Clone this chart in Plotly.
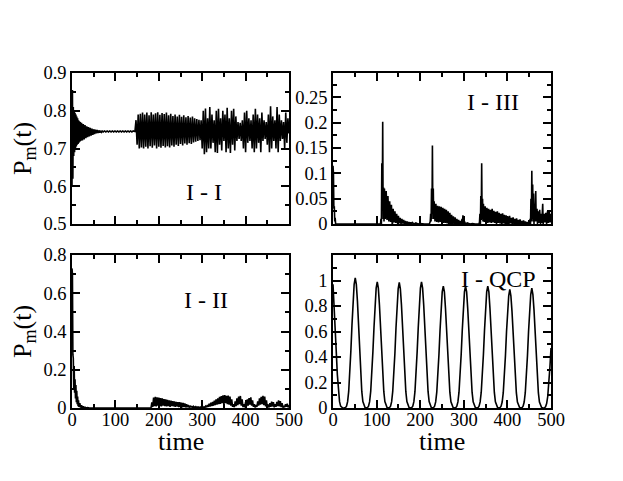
import plotly.graph_objects as go

FONT = "Liberation Serif"

# ---------------- Panel I - I (top left) ----------------
ii_t_a = list(range(0, 21))
ii_v_a = [0.60, 0.855, 0.62, 0.81, 0.68, 0.80, 0.69, 0.795, 0.70, 0.79, 0.705,
          0.785, 0.71, 0.78, 0.712, 0.775, 0.715, 0.772, 0.718, 0.770, 0.720]
ii_t_b = list(range(22, 71, 2))
ii_v_b = [0.768, 0.721, 0.765, 0.724, 0.762, 0.727, 0.759, 0.730, 0.757, 0.732,
          0.755, 0.734, 0.753, 0.736, 0.751, 0.738, 0.750, 0.740, 0.749, 0.741,
          0.748, 0.742, 0.747, 0.743, 0.746]
ii_t_c = list(range(72, 145, 3))
ii_v_c = [0.744, 0.7465, 0.744, 0.7465, 0.744, 0.7465, 0.744, 0.7465, 0.744, 0.7465,
          0.744, 0.7465, 0.744, 0.7465, 0.744, 0.7465, 0.744, 0.7465, 0.744, 0.7465,
          0.744, 0.7465, 0.744, 0.7465, 0.745]
ii_t_d = [145 + 2.5 * i for i in range(143)]
ii_v_d = [0.745, 0.775, 0.71, 0.79, 0.70, 0.792, 0.703, 0.795, 0.70, 0.79,
          0.705, 0.795, 0.70, 0.788, 0.706, 0.796, 0.702, 0.79, 0.708, 0.793,
          0.70, 0.796, 0.705, 0.789, 0.702, 0.794, 0.707, 0.791, 0.703, 0.795,
          0.706, 0.788, 0.703, 0.792, 0.708, 0.786, 0.705, 0.79, 0.71, 0.785,
          0.707, 0.789, 0.712, 0.784, 0.708, 0.788, 0.713, 0.783, 0.71, 0.786,
          0.714, 0.782, 0.712, 0.785, 0.716, 0.78, 0.718, 0.778, 0.72, 0.776,
          0.722, 0.775, 0.70, 0.80, 0.685, 0.806, 0.69, 0.78, 0.70, 0.81,
          0.70, 0.79, 0.715, 0.775, 0.69, 0.80, 0.688, 0.805, 0.71, 0.78,
          0.695, 0.80, 0.72, 0.79, 0.69, 0.808, 0.70, 0.78, 0.688, 0.80,
          0.71, 0.805, 0.695, 0.785, 0.72, 0.77, 0.725, 0.768, 0.72, 0.775,
          0.70, 0.795, 0.69, 0.80, 0.715, 0.78, 0.72, 0.775, 0.70, 0.79,
          0.69, 0.805, 0.70, 0.79, 0.715, 0.78, 0.69, 0.795, 0.72, 0.775,
          0.725, 0.77, 0.71, 0.79, 0.69, 0.812, 0.70, 0.785, 0.72, 0.775,
          0.70, 0.81, 0.69, 0.79, 0.72, 0.775, 0.725, 0.77, 0.70, 0.795,
          0.715, 0.78, 0.74]
ii_t = ii_t_a + ii_t_b + ii_t_c + ii_t_d
ii_v = ii_v_a + ii_v_b + ii_v_c + ii_v_d

# ---------------- Panel I - III (top right) ----------------
iii_t = [0, 1, 2, 3, 4, 5, 6, 10, 106, 109, 110, 111, 112, 113, 114, 115, 116, 117, 118,
         120, 122, 124, 126, 128, 130, 132, 134, 136, 138, 140, 142, 144, 146, 148, 150,
         152, 154, 156, 158, 160, 162, 164, 166, 168, 170, 172, 174, 176, 178, 180, 182,
         186, 190, 195, 200, 210, 221,
         223, 224, 225, 226, 227, 228, 229, 230, 231, 232, 234, 236, 238, 240, 242, 244,
         246, 248, 250, 252, 254, 256, 258, 260, 262, 264, 266, 268, 270, 272, 274, 276,
         278, 280, 282, 284, 286, 288, 290, 292, 294, 296, 297, 298, 300, 302, 304, 308,
         314, 320, 326, 335,
         336, 337, 338, 339, 340, 341, 342, 343, 344, 345, 347, 349, 351, 353, 355, 357,
         359, 361, 363, 365, 367, 369, 371, 373, 375, 377, 379, 381, 383, 385, 387, 389,
         391, 393, 395, 397, 399, 401, 403, 405, 407, 409, 411, 413, 415, 417, 419, 421,
         423, 425, 427, 429, 431, 433, 435, 437, 439, 441, 443, 445, 447, 449, 451,
         452, 453, 454, 455, 456, 457, 458, 459, 460, 461, 462, 463, 465, 466, 468, 469,
         471, 472, 474, 476, 478, 479, 481, 482, 484, 486, 488, 490, 492, 494, 496, 498, 500]
iii_v = [0.115, 0.10, 0.03, 0.035, 0.005, 0.012, 0.0, 0.0, 0.0, 0.0, 0.01, 0.0, 0.12, 0.03,
         0.202, 0.01, 0.072, 0.005, 0.07,
         0.01, 0.065, 0.008, 0.055, 0.005, 0.045, 0.004, 0.038, -0.006, 0.03, 0.003, 0.025,
         0.002, 0.02, 0.001, 0.016, 0.001, 0.012, 0.0, 0.01, 0.001, 0.008, 0.0, 0.006, 0.0,
         0.005, 0.0, 0.004, 0.0, 0.003, 0.0, 0.003, 0.0, 0.002, 0.0, 0.001, 0.0, 0.0,
         0.005, 0.02, 0.005, 0.07, 0.01, 0.155, 0.02, 0.07, 0.01, 0.045, 0.005, 0.04, 0.004,
         0.036, 0.003, 0.035, 0.004, 0.034, 0.003, 0.032, 0.002, 0.03, 0.002, 0.028, 0.001,
         0.025, -0.004, 0.022, -0.008, 0.018, 0.0, 0.015, 0.0, 0.013, 0.0, 0.01, 0.0, 0.008,
         0.0, 0.006, 0.0, 0.01, 0.0, 0.017, 0.002, 0.004, 0.0, 0.002, 0.0, 0.001, 0.0, 0.0,
         0.004, 0.02, -0.006, 0.055, 0.008, 0.12, 0.01, 0.05, 0.005, 0.04, 0.004, 0.035,
         0.003, 0.032, 0.002, 0.03, 0.003, 0.028, 0.002, 0.03, 0.003, 0.026, 0.002, 0.024,
         0.0, 0.025, 0.002, 0.022, 0.001, 0.02, -0.003, 0.021, 0.001, 0.018, 0.0, 0.017,
         0.001, 0.015, -0.005, 0.016, 0.001, 0.012, 0.0, 0.013, 0.0, 0.01, 0.0, 0.011, 0.0,
         0.008, 0.0, 0.009, 0.0, 0.006, 0.0, 0.007, 0.0, 0.005, 0.0, 0.004, 0.0, 0.003, 0.001,
         0.01, 0.0, 0.05, 0.005, 0.105, 0.01, 0.078, 0.005, 0.06, 0.0, 0.04, 0.005, 0.065,
         0.005, 0.03, 0.0, 0.025, 0.002, 0.028, 0.0, 0.02, 0.002, 0.04, 0.0, 0.02, 0.003,
         0.022, 0.0, 0.025, 0.002, 0.024, 0.003, 0.02]

# ---------------- Panel I - II (bottom left) ----------------
i2_t_a = [0, 1, 2, 3, 4, 5, 6, 7, 8, 9, 10, 11, 12, 13, 14, 15, 16, 18, 20, 22, 24, 26,
          28, 30, 33, 36, 40, 180]
i2_v_a = [0.73, 0.70, 0.28, 0.26, 0.10, 0.22, 0.08, 0.15, 0.05, 0.12, 0.03, 0.09, 0.02,
          0.06, 0.01, 0.04, 0.005, 0.025, 0.002, 0.015, 0.0, 0.008, 0.0, 0.004, 0.0,
          0.002, 0.0, 0.0]
i2_t_b = list(range(182, 501, 2))
i2_v_b = [0.0, 0.03, 0.005, 0.055, 0.01, 0.058, 0.008, 0.056, 0.012, 0.055,
          0.01, 0.052, 0.008, 0.05, 0.012, 0.046, 0.01, 0.045, 0.008, 0.042,
          0.01, 0.04, 0.006, 0.038, 0.01, 0.036, 0.008, 0.034, 0.006, 0.032,
          0.008, 0.03, 0.005, 0.03, 0.006, 0.028, 0.004, 0.027, 0.005, 0.024,
          0.003, 0.02, 0.004, 0.016, 0.002, 0.012, 0.003, 0.01, 0.001, 0.008,
          0.002, 0.007, 0.001, 0.006, 0.002, 0.005, 0.001, 0.005, 0.0, 0.004,
          0.001, 0.006, 0.002, 0.01, 0.004, 0.016, 0.006, 0.022, 0.008, 0.028,
          0.01, 0.032, 0.012, 0.038, 0.015, 0.045, 0.018, 0.05, 0.02, 0.058,
          0.022, 0.062, 0.025, 0.066, 0.02, 0.068, 0.025, 0.064, 0.02, 0.065,
          0.018, 0.06, 0.012, 0.045, 0.006, 0.02, 0.004, 0.035, 0.01, 0.05,
          0.015, 0.06, 0.02, 0.063, 0.012, 0.045, 0.005, 0.02, 0.004, 0.03,
          0.008, 0.045, 0.012, 0.052, 0.018, 0.056, 0.012, 0.04, 0.006, 0.02,
          0.003, 0.015, 0.006, 0.035, 0.012, 0.05, 0.018, 0.058, 0.02, 0.063,
          0.015, 0.06, 0.008, 0.04, 0.004, 0.018, 0.003, 0.025, 0.006, 0.033,
          0.008, 0.03, 0.004, 0.02, 0.006, 0.032, 0.01, 0.04, 0.008, 0.036,
          0.005, 0.025, 0.002, 0.012, 0.004, 0.02, 0.006, 0.022, 0.003, 0.015]
i2_t = i2_t_a + i2_t_b
i2_v = i2_v_a + i2_v_b

# ---------------- Panel I - QCP (bottom right) ----------------
qcp_t = [0, 2.5, 5, 7.5, 10, 12.5, 15, 17.5, 20, 22.5, 25,
         28.5, 31, 33.5, 36, 38.5, 41, 43.5, 46, 48.5, 51, 53.5, 56, 58.5, 61, 63.5, 66, 68.5, 71, 73.5, 76,
         79, 81.5, 84, 86.5, 89, 91.5, 94, 96.5, 99, 101.5, 104, 106.5, 109, 111.5, 114, 116.5, 119, 121.5, 124, 127,
         129.5, 132, 134.5, 137, 139.5, 142, 144.5, 147, 149.5, 152, 154.5, 157, 159.5, 162, 164.5, 167, 169.5, 172, 174.5, 177.5,
         180.5, 183, 185.5, 188, 190.5, 193, 195.5, 198, 200.5, 203, 205.5, 208, 210.5, 213, 215.5, 218, 220.5, 223, 225.5, 228,
         230.5, 233, 235.5, 238, 240.5, 243, 245.5, 248, 250.5, 253, 255.5, 258, 260.5, 263, 265.5, 268, 270.5, 273, 275.5, 278.5,
         281.5, 284, 286.5, 289, 291.5, 294, 296.5, 299, 301.5, 304, 306.5, 309, 311.5, 314, 316.5, 319, 321.5, 324, 326.5, 329.5,
         332.5, 335, 337.5, 340, 342.5, 345, 347.5, 350, 352.5, 355, 357.5, 360, 362.5, 365, 367.5, 370, 372.5, 375, 377.5, 380,
         383, 385.5, 388, 390.5, 393, 395.5, 398, 400.5, 403, 405.5, 408, 410.5, 413, 415.5, 418, 420.5, 423, 425.5, 428, 431,
         433.5, 436, 438.5, 441, 443.5, 446, 448.5, 451, 453.5, 456, 458.5, 461, 463.5, 466, 468.5, 471, 473.5, 476, 478.5, 482,
         485, 487.5, 490, 492.5, 495, 497.5, 500]
qcp_v = [0.97, 0.82, 0.63, 0.44, 0.26, 0.13, 0.05, 0.015, 0.003, 0.0, 0.0,
         0.003, 0.015, 0.05, 0.13, 0.27, 0.45, 0.65, 0.84, 0.97, 1.02, 0.97, 0.84, 0.65, 0.45, 0.27, 0.13, 0.05, 0.015, 0.003, 0.0,
         0.003, 0.015, 0.05, 0.13, 0.26, 0.44, 0.63, 0.81, 0.94, 0.99, 0.94, 0.81, 0.63, 0.44, 0.26, 0.13, 0.05, 0.015, 0.003, 0.0,
         0.003, 0.015, 0.05, 0.13, 0.26, 0.43, 0.63, 0.81, 0.935, 0.985, 0.935, 0.81, 0.63, 0.43, 0.26, 0.13, 0.05, 0.015, 0.003, 0.0,
         0.003, 0.015, 0.05, 0.13, 0.26, 0.44, 0.63, 0.81, 0.94, 0.99, 0.94, 0.81, 0.63, 0.44, 0.26, 0.13, 0.05, 0.015, 0.003, 0.0,
         0.003, 0.014, 0.048, 0.124, 0.25, 0.42, 0.61, 0.78, 0.91, 0.955, 0.91, 0.78, 0.61, 0.42, 0.25, 0.124, 0.048, 0.014, 0.003, 0.0,
         0.003, 0.014, 0.048, 0.124, 0.25, 0.42, 0.61, 0.78, 0.91, 0.955, 0.91, 0.78, 0.61, 0.42, 0.25, 0.124, 0.048, 0.014, 0.003, 0.0,
         0.003, 0.014, 0.048, 0.124, 0.25, 0.42, 0.61, 0.78, 0.91, 0.955, 0.91, 0.78, 0.61, 0.42, 0.25, 0.124, 0.048, 0.014, 0.003, 0.0,
         0.003, 0.014, 0.047, 0.12, 0.24, 0.41, 0.60, 0.76, 0.88, 0.93, 0.88, 0.76, 0.60, 0.41, 0.24, 0.12, 0.047, 0.014, 0.003, 0.0,
         0.003, 0.014, 0.047, 0.12, 0.245, 0.41, 0.60, 0.77, 0.89, 0.94, 0.89, 0.77, 0.60, 0.41, 0.245, 0.12, 0.047, 0.014, 0.003, 0.0,
         0.002, 0.01, 0.035, 0.09, 0.19, 0.32, 0.47]

# ---------------- Axis settings ----------------
x_ticks = [0, 100, 200, 300, 400, 500]
x_minor = [50, 150, 250, 350, 450]
labels = ["I - I", "I - III", "I - II", "I - QCP"]

fig = go.Figure()
line = dict(color="black", width=1.6)
for (xs, ys, xa, ya) in [(ii_t, ii_v, "x", "y"), (iii_t, iii_v, "x2", "y2"),
                         (i2_t, i2_v, "x3", "y3"), (qcp_t, qcp_v, "x4", "y4")]:
    fig.add_trace(go.Scatter(x=xs, y=ys, mode="lines", line=line, xaxis=xa, yaxis=ya,
                             showlegend=False, hoverinfo="skip", cliponaxis=True))

tickfont = dict(family=FONT, size=18.5, color="black")
titlefont = dict(family=FONT, size=26, color="black")


def axis_common():
    return dict(showline=True, linecolor="black", linewidth=1.5, mirror="allticks",
                ticks="inside", ticklen=8, tickwidth=1.5, tickcolor="black",
                showgrid=False, zeroline=False, tickfont=tickfont, automargin=False)


def xaxis(domain, anchor, show):
    d = axis_common()
    d.update(domain=domain, anchor=anchor, range=[0, 500], tickvals=x_ticks,
             showticklabels=show, ticklabelstandoff=-6,
             minor=dict(tickvals=x_minor, ticks="inside", ticklen=4, tickwidth=1.5,
                        tickcolor="black"))
    return d


def yaxis(domain, anchor, rng, tv, mv, title):
    d = axis_common()
    d.update(domain=domain, anchor=anchor, range=rng, tickvals=tv,
             minor=dict(tickvals=mv, ticks="inside", ticklen=4, tickwidth=1.5,
                        tickcolor="black"))
    if title:
        d["title"] = dict(text="P<sub>m</sub>(t)", font=titlefont, standoff=8)
    return d


# The page places the figure 8px from the window's top-left corner.
OFF = 8
W, H = 623 - OFF, 481 - OFF


def px(x):
    return (x - OFF) / W


def py(y):
    return 1 - (y - OFF) / H


xl = [px(72), px(289)]
xr = [px(333), px(551)]
yt = [py(224), py(73)]
yb = [py(408), py(255)]

fig.update_layout(
    width=W, height=H, margin=dict(l=0, r=0, t=0, b=0, autoexpand=False),
    paper_bgcolor="white", plot_bgcolor="white",
    font=dict(family=FONT, color="black"),
    xaxis=xaxis(xl, "y", False),
    xaxis2=xaxis(xr, "y2", False),
    xaxis3=xaxis(xl, "y3", True),
    xaxis4=xaxis(xr, "y4", True),
    yaxis=yaxis(yt, "x", [0.5, 0.9], [0.5, 0.6, 0.7, 0.8, 0.9],
                [0.55, 0.65, 0.75, 0.85], True),
    yaxis2=yaxis(yt, "x2", [0, 0.298], [0, 0.05, 0.1, 0.15, 0.2, 0.25],
                 [0.025, 0.075, 0.125, 0.175, 0.225, 0.275], False),
    yaxis3=yaxis(yb, "x3", [0, 0.8], [0, 0.2, 0.4, 0.6, 0.8],
                 [0.1, 0.3, 0.5, 0.7], True),
    yaxis4=yaxis(yb, "x4", [0, 1.2], [0, 0.2, 0.4, 0.6, 0.8, 1.0],
                 [0.1, 0.3, 0.5, 0.7, 0.9, 1.1], False),
)

ann_pos = [(204, 191.5), (493, 102.5), (205.5, 300), (498, 279)]
for text, (ax_, ay_) in zip(labels, ann_pos):
    fig.add_annotation(text=text, x=px(ax_), y=py(ay_), xref="paper", yref="paper",
                       showarrow=False, font=dict(family=FONT, size=24, color="black"),
                       xanchor="center", yanchor="middle")

# x-axis titles under the bottom panels
for cx in (180.5, 442):
    fig.add_annotation(text="time", x=px(cx), y=py(441), xref="paper", yref="paper",
                       showarrow=False, font=titlefont, xanchor="center", yanchor="middle")

fig.write_html("out.html")
